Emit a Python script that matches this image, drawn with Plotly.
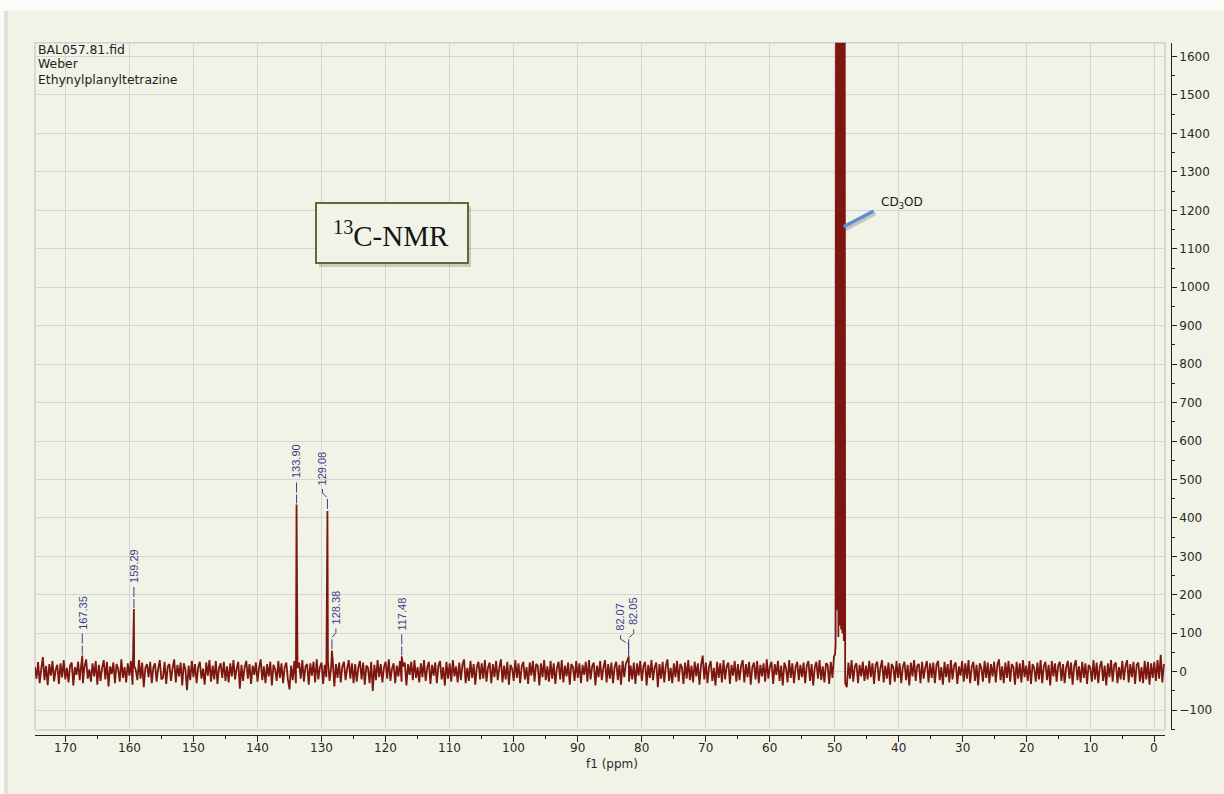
import numpy as np
import plotly.graph_objects as go

W, H = 1224, 794

# ---------------------------------------------------------------- data
# baseline noise, one sample every 0.25 ppm starting at 174.75 ppm
baseline_start = 174.75
baseline_step = 0.25
baseline = [
    12, -18, 25, -30, 8, 38, -22, 15, -35, 20, -10, 28, -25, 5, 18, -32, 22, -15, 30, -20,
    10, -28, 16, 24, -36, 12, -8, 26, -22, 20, -30, 14, 32, -18, 6, -26, 22, -12, 28, -34,
    18, -24, 10, 30, -20, 26, -38, 14, -6, 24, -30, 20, 8, -26, 32, -16, 12, -28, 22, -10,
    28, -34, 16, 4, -22, 30, -18, 24, -40, 10, 20, -14, 26, -30, 12, 22, -26, 8, 30, -20,
    -16, 26, -32, 14, 20, -24, 10, 32, -28, 18, -12, 24, -36, 22, 6, -48, 16, -22, 28, -14,
    20, -30, 12, 26, -18, 8, -34, 24, -10, 30, -26, 16, -20, 28, -32, 10, 22, -16, 26, -24,
    14, -28, 22, -12, 30, -20, 8, 26, -44, 18, -24, 12, 28, -18, 20, -32, 16, -8, 24, -26,
    10, 32, -22, 14, -30, 20, -12, 26, -36, 18, 6, -24, 28, -16, 22, -30, 12, 24, -20, -46,
    16, -22, 28, -30, 10, 24, -18, 30, -26, 14, 20, -34, 22, -10, 26, -28, 32, -20, 12, 24,
    -32, 18, -14, 28, -24, 10, 30, -38, 20, -16, 24, -28, 14, 26, -22, 8, 30, -18, 22, -30,
    20, -26, 12, 28, -20, 24, -34, 16, 10, -30, 26, -50, 18, -22, 30, -14, 20, -28, 12, 26,
    -18, 32, -24, 8, 22, -30, 16, -12, 28, -26, 14, 24, -36, 20, -8, 26, -22, 30, -16, 12,
    -28, 22, -14, 30, -24, 10, 26, -32, 18, -10, 24, -30, 16, 28, -20, 12, -36, 26, -18, 22,
    -26, 30, -12, 14, -28, 24, -22, 18, 32, -30, 10, -24, 28, -16, 20, -34, 14, 26, -20, 22,
    -18, 30, -26, 12, 24, -30, 20, -14, 28, -22, 10, 32, -28, 16, -20, 26, -34, 18, 8, -24,
    30, -16, 22, -30, 14, 26, -20, 12, -32, 24, -10, 28, -26, 20, 16, -36, 22, -14, 30, -22,
    14, -26, 28, -18, 22, -32, 10, 26, -20, 30, -28, 16, -12, 24, -34, 20, 12, -24, 28, -16,
    22, -30, 18, -8, 26, -26, 30, -20, 14, 24, -36, 16, -14, 28, -22, 10, 30, -28, 20, -18,
    24, -30, 12, 26, -22, 18, -34, 28, -14, 20, 30, -26, 16, -20, 24, -32, 22, -10, 28, -24,
    14, 26, -36, 18, -16, 30, -22, 12, 24, -40, 20, -18, 26, -28, 16, 32, -24, 10, -30, 22,
    -14, 28, -26, 20, 12, -32, 24, -18, 30, -22, 16, -28, 26, -12, 22, -34, 18, 42, -20, 24,
    -30, 14, 28, -24, 10, -36, 26, -16, 22, -28, 30, -20, 14, 24, -32, 18, -10, 28, -26, 20,
    -22, 16, 30, -28, 20, -14, 26, -34, 12, 24, -20, 28, -30, 18, -12, 22, -26, 32, -18, 14,
    26, -32, 20, -8, 28, -24, 16, -36, 24, 10, -28, 30, -16, 22, -30, 12, 26, -22, 18, -14,
    24, -30, 16, 28, -24, 20, -36, 12, 26, -18, 30, -22, 14, -28, 22, 18, -32, 26, -16, 40,
    -20, 30, -25, 20, -18, 26, -30, -40, 24, -18, 30, -26, 14, 22, -30, 18, -12, 26, -24, 16,
    -20, 28, -14, 22, -32, 18, 26, -24, 10, 30, -28, 16, -18, 24, -34, 20, 12, -26, 28, -16,
    22, -30, 14, 26, -22, 18, -36, 24, -12, 30, -24, 16, 20, -30, 26, -18, 12, 28, -28, 22,
    -16, 24, -30, 18, 28, -22, 12, -34, 26, -14, 20, -28, 30, -20, 16, 24, -32, 14, -10, 28,
    -26, 22, -18, 30, -30, 12, 26, -24, 18, -36, 22, 10, -26, 28, -16, 24, -30, 20, -12, 26,
    -28, 18, 32, -22, 14, -30, 24, -16, 28, -26, 20, 12, -34, 26, -18, 22, -28, 30, -14, 16,
    -24, 28, -32, 20, 10, -26, 24, -20, 30, -30, 14, 26, -22, 18, -36, 28, -12, 22, -26, 16,
    26, -24, 20, -30, 12, 28, -18, 24, -34, 16, 30, -22, 14, -28, 26, -16, 22, -32, 18, 10,
    -26, 30, -20, 24, -30, 14, 28, -24, 16, -36, 22, -14, 30, -26, 18, 24, -30, 12, -20, 28,
    -22, 16, 30, -28, 20, -14, 26, -32, 18, 24, -26, 12, -30, 28, -20, 26, -34, 22, -16, 26,
    -24, 30, -18, 44, -28, 20,
]

# picked signals (ppm, intensity)
peak_ppm = [167.35, 159.29, 133.90, 129.08, 128.38, 117.48, 82.07, 82.05]
peak_height = [42, 163, 435, 418, 55, 40, 38, 40]
peak_labels = ["167.35", "159.29", "133.90", "129.08", "128.38", "117.48", "82.07", "82.05"]

# CD3OD septet around 49 ppm (lines and the dips between them)
solvent_ppm = [49.85, 49.75, 49.64, 49.54, 49.43, 49.32, 49.21, 49.11,
               49.00, 48.89, 48.79, 48.68, 48.57, 48.47, 48.36, 48.26]
solvent_int = [45, 70, 2600, 160, 9000, 90, 19000, 120,
               22000, 110, 19000, 100, 9000, 80, 2600, 30]

header_lines = ["BAL057.81.fid", "Weber", "Ethynylplanyltetrazine"]
x_tick_values = [170, 160, 150, 140, 130, 120, 110, 100, 90, 80, 70, 60, 50, 40, 30, 20, 10, 0]
y_tick_values = [-100, 0, 100, 200, 300, 400, 500, 600, 700, 800, 900, 1000,
                 1100, 1200, 1300, 1400, 1500, 1600]

# ---------------------------------------------------------------- geometry
PLOT_L, PLOT_R, PLOT_T, PLOT_B = 35, 1165, 42.7, 730
X_RANGE = [174.73, -1.67]
Y_RANGE = [-151.6, 1636.0]
Y_AXIS_PX = 1170.7
X_AXIS_PX = 735

BG = "#f0f3e5"
TRACE = "#7d1610"
LABEL_BLUE = "#3c3c8c"


def px_x(px):
    return px / W


def px_y(py):
    return 1 - py / H


ppm_per_px = (X_RANGE[0] - X_RANGE[1]) / (PLOT_R - PLOT_L)
val_per_px = (Y_RANGE[1] - Y_RANGE[0]) / (PLOT_B - PLOT_T)


def data_to_py(v):
    return PLOT_B - (v - Y_RANGE[0]) / val_per_px


def py_to_data(py):
    return Y_RANGE[0] + (PLOT_B - py) * val_per_px


# ---------------------------------------------------------------- spectrum
grid = baseline_start - baseline_step * np.arange(len(baseline))
noise = np.array(baseline, dtype=float)
keep = (grid < min(solvent_ppm)) | (grid > max(solvent_ppm))
xs = np.concatenate([grid[keep], peak_ppm, solvent_ppm])
ys = np.concatenate([noise[keep], peak_height, solvent_int])
order = np.argsort(-xs, kind="stable")
xs, ys = xs[order], ys[order]

fig = go.Figure()
fig.add_trace(go.Scatter(x=xs, y=ys, mode="lines",
                         line=dict(color=TRACE, width=1.8, simplify=False),
                         hoverinfo="skip", showlegend=False))

# ---------------------------------------------------------------- peak labels
label_dx = {"129.08": -5, "128.38": 4, "82.07": -8, "82.05": 5}
label_dy = {"82.05": -5}
annotations = []
for p, h, lab in zip(peak_ppm, peak_height, peak_labels):
    top_py = data_to_py(h)
    yb = top_py - 25 + label_dy.get(lab, 0)
    dx = label_dx.get(lab, 0)
    lx = p - dx * ppm_per_px
    annotations.append(dict(
        x=lx, y=py_to_data(yb), xref="x", yref="y", text=lab, showarrow=False,
        textangle=-90, xanchor="center", yanchor="bottom", borderpad=0,
        font=dict(family="Liberation Sans, Arial", size=11, color=LABEL_BLUE)))
    if dx == 0:
        lxs = [p, p]
        lys = [py_to_data(yb + 3), py_to_data(top_py - 1)]
    else:
        lxs = [lx, lx, p, p]
        lys = [py_to_data(yb + 3), py_to_data(yb + 7),
               py_to_data(yb + 12), py_to_data(top_py - 1)]
    fig.add_trace(go.Scatter(x=lxs, y=lys, mode="lines",
                             line=dict(color=LABEL_BLUE, width=1, dash="10px,2px"),
                             hoverinfo="skip", showlegend=False))

# header text in the top-left corner
for i, line in enumerate(header_lines):
    annotations.append(dict(
        x=px_x(36), y=px_y(49 + 15 * i), xref="paper", yref="paper", text=line,
        showarrow=False, xanchor="left", yanchor="middle",
        font=dict(family="DejaVu Sans, Verdana", size=12.4, color="#222222")))

tickfont = dict(family="DejaVu Sans, Verdana", size=12, color="#2a2a2a")

# x tick labels, set just under the tick marks
for v in x_tick_values:
    annotations.append(dict(
        x=v, y=px_y(748), xref="x", yref="paper", text=str(v), showarrow=False,
        xanchor="center", yanchor="middle", font=tickfont))

# axis title
annotations.append(dict(
    x=px_x(612), y=px_y(764), xref="paper", yref="paper", text="f1 (ppm)",
    showarrow=False, xanchor="center", yanchor="middle",
    font=dict(family="DejaVu Sans, Verdana", size=12, color="#2a2a2a")))

# boxed experiment title
annotations.append(dict(
    x=px_x(391), y=px_y(234), xref="paper", yref="paper", text="<sup>13</sup>C-NMR",
    showarrow=False, xanchor="center", yanchor="middle",
    font=dict(family="Liberation Serif, Times New Roman", size=29, color="#151515")))

# solvent label
annotations.append(dict(
    x=px_x(879), y=px_y(203), xref="paper", yref="paper", text="CD<sub>3</sub>OD",
    showarrow=False, xanchor="left", yanchor="middle",
    font=dict(family="DejaVu Sans, Verdana", size=12, color="#1a1a1a")))

# ---------------------------------------------------------------- decorations
shapes = [
    # page panel and its left shadow
    dict(type="rect", xref="paper", yref="paper", layer="below",
         x0=px_x(8), x1=1, y0=0, y1=px_y(11), fillcolor=BG, line=dict(width=0)),
    dict(type="rect", xref="paper", yref="paper", layer="below",
         x0=px_x(4), x1=px_x(8), y0=0, y1=px_y(11),
         fillcolor="rgba(0,0,0,0.10)", line=dict(width=0)),
    # plot frame
    dict(type="rect", xref="paper", yref="paper", layer="below",
         x0=px_x(PLOT_L), x1=px_x(PLOT_R), y0=px_y(PLOT_B), y1=px_y(PLOT_T),
         line=dict(color="#cfcfcf", width=1.5)),
    # title box shadow and frame
    dict(type="rect", xref="paper", yref="paper",
         x0=px_x(319), x1=px_x(471), y0=px_y(267), y1=px_y(206),
         fillcolor="rgba(0,0,0,0.16)", line=dict(width=0)),
    dict(type="rect", xref="paper", yref="paper",
         x0=px_x(316), x1=px_x(468), y0=px_y(263), y1=px_y(203),
         fillcolor=BG, line=dict(color="#5d6b34", width=2)),
    # solvent pointer with its shadow
    dict(type="line", xref="paper", yref="paper",
         x0=px_x(845.5), y0=px_y(229.5), x1=px_x(875.5), y1=px_y(213.5),
         line=dict(color="rgba(0,0,0,0.18)", width=3.5)),
    dict(type="line", xref="paper", yref="paper",
         x0=px_x(843.7), y0=px_y(226.7), x1=px_x(873.7), y1=px_y(211),
         line=dict(color="#5b8fd4", width=3.5)),
]

fig.update_layout(
    width=W, height=H,
    margin=dict(l=0, r=0, t=0, b=0),
    paper_bgcolor="#fbfcf8",
    plot_bgcolor="rgba(0,0,0,0)",
    showlegend=False,
    annotations=annotations,
    shapes=shapes,
    xaxis=dict(
        domain=[px_x(PLOT_L), px_x(PLOT_R)], range=X_RANGE,
        anchor="free", position=px_y(X_AXIS_PX),
        tickmode="array", tickvals=x_tick_values, showticklabels=False,
        ticks="outside", ticklen=6, tickwidth=1, tickcolor="#222",
        showline=True, linecolor="#222", linewidth=1.3,
        showgrid=True, gridcolor="#d4d4d4", gridwidth=1.2,
        zeroline=False,
        minor=dict(dtick=5, tick0=0, ticks="outside", ticklen=3,
                   tickcolor="#222", showgrid=False),
    ),
    yaxis=dict(
        domain=[px_y(PLOT_B), px_y(PLOT_T)], range=Y_RANGE,
        side="right", anchor="free", position=px_x(Y_AXIS_PX),
        tickmode="array", tickvals=y_tick_values,
        ticks="outside", ticklen=5, tickwidth=1, tickcolor="#222",
        showline=True, linecolor="#222", linewidth=1.3,
        showgrid=True, gridcolor="#d4d4d4", gridwidth=1.2,
        zeroline=False, tickfont=tickfont,
        minor=dict(dtick=50, tick0=0, ticks="outside", ticklen=3,
                   tickcolor="#222", showgrid=False),
    ),
)

fig.write_html("out.html")
